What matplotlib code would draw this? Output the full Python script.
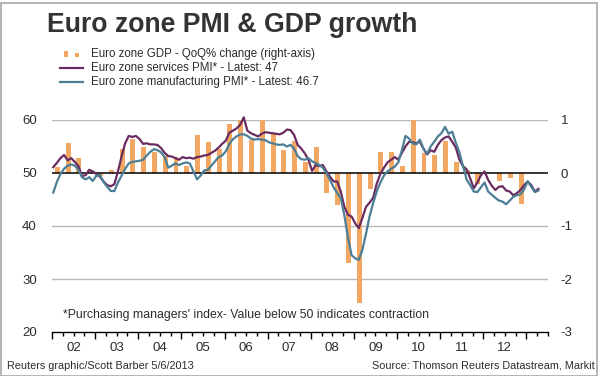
import matplotlib
matplotlib.use("Agg")
import matplotlib.pyplot as plt
import matplotlib.transforms as mtransforms
from matplotlib import font_manager
from matplotlib.patches import Rectangle
from matplotlib.lines import Line2D
import numpy as np

# ---------------- data ----------------
years = ["02", "03", "04", "05", "06", "07", "08", "09", "10", "11", "12"]

# Euro zone services PMI, monthly Jan 2002 - Apr 2013
services_pmi = [
    51.1, 51.9, 52.8, 53.4, 52.4, 52.8, 52.1, 51.3, 49.4, 49.6, 50.6, 50.3,   # 2002
    49.8, 49.3, 48.4, 47.7, 47.5, 47.9, 50.3, 53.1, 55.6, 57.0, 56.8, 57.0,   # 2003
    56.4, 55.5, 55.6, 55.4, 55.4, 55.3, 54.7, 53.8, 53.2, 53.1, 52.8, 52.5,   # 2004
    53.0, 52.8, 52.9, 52.7, 53.0, 53.1, 53.3, 53.4, 53.8, 54.2, 54.8, 55.5,   # 2005
    56.1, 57.6, 58.0, 58.4, 59.1, 60.5, 58.0, 57.5, 57.2, 56.9, 57.4, 57.7,   # 2006
    57.6, 57.5, 57.4, 57.3, 57.6, 58.2, 58.1, 57.2, 55.3, 54.6, 53.7, 52.5,   # 2007
    50.4, 51.5, 51.3, 51.5, 50.3, 49.3, 48.4, 48.4, 46.5, 43.6, 42.1, 41.8,   # 2008
    40.5, 39.6, 41.5, 43.6, 44.4, 45.3, 48.0, 49.8, 51.0, 52.0, 52.5, 53.0,   # 2009
    52.5, 53.8, 55.0, 55.9, 55.8, 55.6, 55.9, 54.6, 53.5, 54.3, 54.0, 55.3,   # 2010
    56.2, 56.7, 56.9, 55.9, 54.8, 52.5, 51.3, 50.7, 49.0, 47.1, 48.2, 49.6,   # 2011
    50.3, 48.7, 47.6, 46.8, 47.4, 47.5, 46.7, 46.5, 45.8, 46.2, 46.8, 47.7,   # 2012
    48.4, 47.7, 46.5, 47.0,                                                   # 2013
]

# Euro zone manufacturing PMI, monthly Jan 2002 - Apr 2013
manufacturing_pmi = [
    46.3, 48.3, 49.8, 50.8, 51.4, 51.6, 51.4, 50.6, 49.2, 48.8, 49.2, 48.5,   # 2002
    49.5, 49.6, 48.3, 47.4, 46.6, 46.6, 48.2, 49.5, 50.8, 51.8, 52.1, 52.2,   # 2003
    52.3, 52.5, 53.3, 54.0, 54.5, 54.3, 53.9, 53.0, 51.0, 51.4, 51.8, 51.5,   # 2004
    51.8, 52.0, 51.8, 50.3, 48.8, 49.5, 50.5, 50.6, 51.4, 52.2, 53.0, 53.3,   # 2005
    54.1, 55.5, 56.4, 56.9, 57.3, 57.3, 57.0, 56.5, 56.3, 56.4, 56.3, 56.2,   # 2006
    55.8, 55.6, 55.4, 55.3, 55.4, 55.0, 55.3, 54.6, 53.2, 52.6, 52.5, 52.8,   # 2007
    52.2, 51.9, 51.5, 51.0, 50.0, 48.7, 47.3, 46.2, 45.3, 42.0, 37.8, 34.5,   # 2008
    33.9, 33.6, 35.5, 38.5, 41.8, 44.3, 46.5, 48.2, 49.5, 50.3, 50.8, 51.2,   # 2009
    52.0, 54.3, 57.0, 56.5, 55.6, 55.4, 56.3, 54.6, 53.6, 55.0, 55.9, 56.9,   # 2010
    57.5, 58.7, 57.4, 57.8, 55.7, 53.9, 51.3, 48.8, 47.7, 46.5, 46.4, 47.3,   # 2011
    48.2, 46.5, 45.9, 45.3, 44.8, 44.6, 44.1, 44.8, 45.5, 45.8, 46.0, 46.9,   # 2012
    48.4, 47.4, 46.4, 46.7,                                                   # 2013
]

# Euro zone GDP, QoQ % change, Q1 2002 - Q4 2012
gdp_qoq = [
    0.12, 0.56, 0.28, 0.05,     # 2002
    -0.05, 0.05, 0.45, 0.64,    # 2003
    0.50, 0.40, 0.32, 0.30,     # 2004
    0.13, 0.72, 0.58, 0.45,     # 2005
    0.92, 1.05, 0.62, 1.03,     # 2006
    0.75, 0.43, 0.60, 0.21,     # 2007
    0.50, -0.38, -0.60, -1.70,  # 2008
    -2.45, -0.31, 0.39, 0.40,   # 2009
    0.13, 1.00, 0.37, 0.34,     # 2010
    0.60, 0.20, 0.05, -0.20,    # 2011
    0.00, -0.16, -0.10, -0.58,  # 2012
]

left_ticks = [20, 30, 40, 50, 60]
right_ticks = [-3, -2, -1, 0, 1]
right_labels = ["-3", "-2", "-1", "0", "1"]

# ---------------- fonts ----------------
avail = {f.name for f in font_manager.fontManager.ttflist}
BASE = "Liberation Sans" if "Liberation Sans" in avail else "DejaVu Sans"

C_TEXT = "#2b2b2b"
C_SERV = "#6a2c60"
C_MANU = "#4c7e96"
C_BAR = "#f2a862"
C_GRID = "#b9b9b9"

W, H = 600, 376
fig = plt.figure(figsize=(W / 100, H / 100), dpi=100)
fig.patch.set_facecolor("white")


def fx(x):
    return x / W


def fy(y):
    return 1 - y / H


# ---------------- axes ----------------
x0, x1, ytop, ybot = 52, 548, 120, 332
ax2 = fig.add_axes([fx(x0), fy(ybot), (x1 - x0) / W, (ybot - ytop) / H])
ax = ax2.twinx()
ax.set_zorder(3)
ax.patch.set_visible(False)
ax2.set_zorder(2)

xmin, xmax = 2002.0, 2013.5
for a in (ax, ax2):
    a.set_xlim(xmin, xmax)
    for s in a.spines.values():
        s.set_visible(False)
ax2.set_ylim(-3, 1)
ax.set_ylim(20, 60)

# gridlines
for v in [30, 40, 60]:
    ax2.axhline((v - 50) / 10.0, color=C_GRID, lw=1.0, zorder=0)

# GDP bars (right axis)
q_idx = np.arange(len(gdp_qoq))
q_x = 2002 + (q_idx + 0.5) / 4.0
ax2.bar(q_x, gdp_qoq, width=0.115, color=C_BAR, zorder=1, linewidth=0)

# zero / 50 line
ax.axhline(50, color="black", lw=1.1, zorder=2)

# bottom axis line with year / quarter ticks (on the base axes)
ax2.spines["bottom"].set_visible(True)
ax2.spines["bottom"].set_color("black")
ax2.spines["bottom"].set_linewidth(1.0)
ax2.set_xticks(np.arange(2002, 2014))
ax2.set_xticks(np.arange(2002, 2013.51, 0.25), minor=True)
ax2.tick_params(axis="x", which="major", length=5, width=1, direction="out", color="black",
                bottom=True, labelbottom=False)
ax2.tick_params(axis="x", which="minor", length=3, width=1, direction="out", color="black",
                bottom=True, labelbottom=False)

# PMI lines
m_idx = np.arange(len(services_pmi))
m_x = 2002 + (m_idx + 0.35) / 12.0
ax.plot(m_x, services_pmi, color=C_SERV, lw=1.6, zorder=4, clip_on=False, solid_joinstyle="round")
ax.plot(m_x, manufacturing_pmi, color=C_MANU, lw=1.6, zorder=5, clip_on=False, solid_joinstyle="round")

# left tick labels
ax.yaxis.tick_left()
ax.set_yticks(left_ticks)
ax.set_yticklabels([str(v) for v in left_ticks], fontsize=9.5, color=C_TEXT, family=BASE)
ax.tick_params(axis="y", length=0, pad=11)

# right tick labels
ax2.yaxis.tick_right()
ax2.set_yticks(right_ticks)
ax2.set_yticklabels(right_labels, fontsize=9.5, color=C_TEXT, family=BASE)
ax2.tick_params(axis="y", length=0, pad=9)

# year labels centred in each year
ytrans = mtransforms.blended_transform_factory(ax2.transData, fig.transFigure)
for i, lab in enumerate(years):
    ax2.text(2002 + i + 0.5, fy(348), lab, transform=ytrans,
             ha="center", va="center", fontsize=9.5, color=C_TEXT, family=BASE)

# ---------------- texts ----------------
fig.text(fx(47), fy(32.5), "Euro zone PMI & GDP growth", fontsize=19.2, fontweight="bold",
         color="#333333", family=BASE, va="baseline", ha="left")

leg_fs = 8.3
legend_rows = [
    (54, "Euro zone GDP - QoQ% change (right-axis)"),
    (68, "Euro zone services PMI* - Latest: 47"),
    (82, "Euro zone manufacturing PMI* - Latest: 46.7"),
]
for yy, txt in legend_rows:
    fig.text(fx(91), fy(yy), txt, fontsize=leg_fs, color=C_TEXT, family=BASE, va="center", ha="left")

# legend icons
fig.add_artist(Rectangle((fx(64), fy(57)), 4 / W, 6.5 / H, color=C_BAR, lw=0))
fig.add_artist(Rectangle((fx(75), fy(57)), 4 / W, 4 / H, color=C_BAR, lw=0))
fig.add_artist(Line2D([fx(60), fx(83)], [fy(68), fy(68)], color=C_SERV, lw=1.6))
fig.add_artist(Line2D([fx(60), fx(83)], [fy(82), fy(82)], color=C_MANU, lw=1.6))

fig.text(fx(63), fy(315), "*Purchasing managers' index- Value below 50 indicates contraction",
         fontsize=8.8, color=C_TEXT, family=BASE, va="center", ha="left")

fig.text(fx(7), fy(366), "Reuters graphic/Scott Barber 5/6/2013",
         fontsize=7.8, color=C_TEXT, family=BASE, va="center", ha="left")
fig.text(fx(595), fy(366), "Source: Thomson Reuters Datastream, Markit",
         fontsize=7.8, color=C_TEXT, family=BASE, va="center", ha="right")

# outer frame
fig.add_artist(Rectangle((0.5 / W, 0.5 / H), (W - 4) / W, (H - 3) / H, fill=False,
                         edgecolor="#a8a8a8", lw=1.2))

fig.savefig("out.png", dpi=100, facecolor="white")
